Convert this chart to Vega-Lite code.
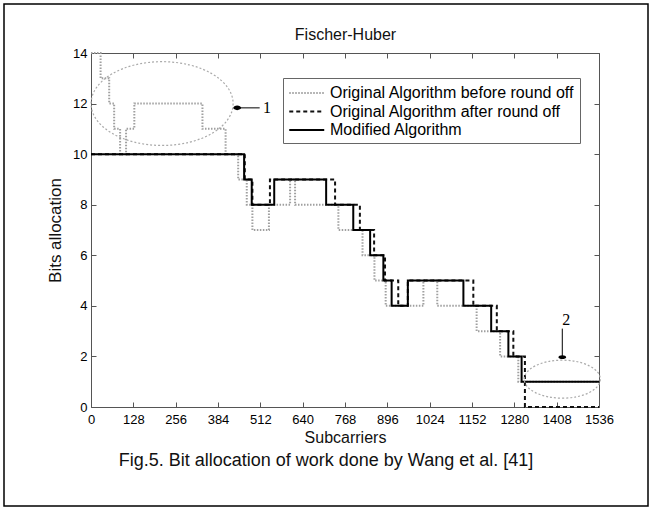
{
  "$schema": "https://vega.github.io/schema/vega-lite/v6.json",
  "width": 508,
  "height": 354,
  "autosize": {"type": "none"},
  "padding": {"left": 91, "top": 53, "right": 53, "bottom": 103},
  "background": "white",
  "title": {"text": "Fig.5. Bit allocation of work done by Wang et al. [41]", "orient": "bottom", "anchor": "middle", "frame": "bounds", "fontSize": 18, "font": "Liberation Sans", "fontWeight": "normal", "color": "#111", "offset": -55},
  "config": {
    "view": {"stroke": null},
    "font": "Liberation Sans",
    "axis": {"grid": false, "domainColor": "#555", "tickColor": "#555", "labelColor": "#000", "labelFontSize": 13, "labelFont": "Liberation Sans", "titleFont": "Liberation Sans", "titleFontSize": 17, "titleFontWeight": "normal", "titleColor": "#111", "tickSize": -5, "labelFlush": false, "labelOverlap": false}
  },
  "datasets": {
    "lines": [
      {"series": "Original Algorithm before round off", "x": 0, "y": 14},
      {"series": "Original Algorithm before round off", "x": 29, "y": 13},
      {"series": "Original Algorithm before round off", "x": 55, "y": 12},
      {"series": "Original Algorithm before round off", "x": 70, "y": 11},
      {"series": "Original Algorithm before round off", "x": 88, "y": 10},
      {"series": "Original Algorithm before round off", "x": 106, "y": 11},
      {"series": "Original Algorithm before round off", "x": 131, "y": 12},
      {"series": "Original Algorithm before round off", "x": 337, "y": 11},
      {"series": "Original Algorithm before round off", "x": 407, "y": 10},
      {"series": "Original Algorithm before round off", "x": 445, "y": 9},
      {"series": "Original Algorithm before round off", "x": 471, "y": 8},
      {"series": "Original Algorithm before round off", "x": 488, "y": 7},
      {"series": "Original Algorithm before round off", "x": 538, "y": 8},
      {"series": "Original Algorithm before round off", "x": 602, "y": 9},
      {"series": "Original Algorithm before round off", "x": 617, "y": 8},
      {"series": "Original Algorithm before round off", "x": 748, "y": 7},
      {"series": "Original Algorithm before round off", "x": 821, "y": 6},
      {"series": "Original Algorithm before round off", "x": 857, "y": 5},
      {"series": "Original Algorithm before round off", "x": 891, "y": 4},
      {"series": "Original Algorithm before round off", "x": 1005, "y": 5},
      {"series": "Original Algorithm before round off", "x": 1047, "y": 4},
      {"series": "Original Algorithm before round off", "x": 1166, "y": 3},
      {"series": "Original Algorithm before round off", "x": 1237, "y": 2},
      {"series": "Original Algorithm before round off", "x": 1292, "y": 1},
      {"series": "Original Algorithm before round off", "x": 1536, "y": 1},
      {"series": "Original Algorithm after round off", "x": 0, "y": 10},
      {"series": "Original Algorithm after round off", "x": 465, "y": 9},
      {"series": "Original Algorithm after round off", "x": 488, "y": 8},
      {"series": "Original Algorithm after round off", "x": 541, "y": 9},
      {"series": "Original Algorithm after round off", "x": 738, "y": 8},
      {"series": "Original Algorithm after round off", "x": 813, "y": 7},
      {"series": "Original Algorithm after round off", "x": 856, "y": 6},
      {"series": "Original Algorithm after round off", "x": 889, "y": 5},
      {"series": "Original Algorithm after round off", "x": 929, "y": 4},
      {"series": "Original Algorithm after round off", "x": 958, "y": 5},
      {"series": "Original Algorithm after round off", "x": 1156, "y": 4},
      {"series": "Original Algorithm after round off", "x": 1227, "y": 3},
      {"series": "Original Algorithm after round off", "x": 1277, "y": 2},
      {"series": "Original Algorithm after round off", "x": 1312, "y": 0},
      {"series": "Original Algorithm after round off", "x": 1536, "y": 0},
      {"series": "Modified Algorithm", "x": 0, "y": 10},
      {"series": "Modified Algorithm", "x": 463, "y": 9},
      {"series": "Modified Algorithm", "x": 486, "y": 8},
      {"series": "Modified Algorithm", "x": 554, "y": 9},
      {"series": "Modified Algorithm", "x": 711, "y": 8},
      {"series": "Modified Algorithm", "x": 793, "y": 7},
      {"series": "Modified Algorithm", "x": 844, "y": 6},
      {"series": "Modified Algorithm", "x": 884, "y": 5},
      {"series": "Modified Algorithm", "x": 909, "y": 4},
      {"series": "Modified Algorithm", "x": 958, "y": 5},
      {"series": "Modified Algorithm", "x": 1126, "y": 4},
      {"series": "Modified Algorithm", "x": 1210, "y": 3},
      {"series": "Modified Algorithm", "x": 1262, "y": 2},
      {"series": "Modified Algorithm", "x": 1302, "y": 1},
      {"series": "Modified Algorithm", "x": 1536, "y": 1}
    ],
    "ellipses": [
      {"name": "1", "x": 215, "y": 12.0},
      {"name": "2", "x": 1425, "y": 1.1}
    ],
    "labels": [
      {"label": "1", "x": 520, "y": 11.83},
      {"label": "2", "x": 1425, "y": 3.45}
    ],
    "arrows": [
      {"name": "1", "x": 445, "y": 11.83, "x2": 510, "y2": 11.83},
      {"name": "2", "x": 1425, "y": 3.1, "x2": 1425, "y2": 2.0}
    ],
    "heads": [
      {"name": "1", "x": 442, "y": 11.83, "dir": "left"},
      {"name": "2", "x": 1425, "y": 1.97, "dir": "down"}
    ]
  },
  "layer": [
    {
      "data": {"name": "lines"},
      "mark": {"type": "line", "interpolate": "step-after", "strokeWidth": 2},
      "encoding": {
        "x": {"field": "x", "type": "quantitative", "scale": {"domain": [0, 1536], "nice": false, "zero": false},
              "axis": {"orient": "bottom", "values": [0,128,256,384,512,640,768,896,1024,1152,1280,1408,1536], "format": "d", "labelPadding": 11, "title": "Subcarriers", "titleFontSize": 16, "titlePadding": 3}},
        "y": {"field": "y", "type": "quantitative", "scale": {"domain": [0, 14], "nice": false},
              "axis": {"orient": "left", "values": [0,2,4,6,8,10,12,14], "labelPadding": 9, "title": "Bits allocation", "titlePadding": 8}},
        "color": {"field": "series", "type": "nominal",
                  "scale": {"domain": ["Original Algorithm before round off", "Original Algorithm after round off", "Modified Algorithm"], "range": ["#a0a0a0", "#111111", "#000000"]},
                  "legend": {"orient": "none", "legendX": 192, "legendY": 25, "title": null, "symbolType": "M-1,0L3,0", "symbolSize": 306, "symbolStrokeWidth": 2, "labelFontSize": 16, "labelFont": "Liberation Sans", "labelColor": "#000", "strokeColor": "#666", "fillColor": "white", "padding": 5, "rowPadding": 0.5, "labelOffset": 22, "labelLimit": 400}},
        "strokeDash": {"field": "series", "type": "nominal",
                  "scale": {"domain": ["Original Algorithm before round off", "Original Algorithm after round off", "Modified Algorithm"], "range": [[1.5, 1.5], [4, 3], [1, 0]]},
                  "legend": {"orient": "none", "legendX": 192, "legendY": 25, "title": null}},
        "order": {"field": "x", "type": "quantitative"}
      }
    },
    {
      "data": {"name": "ellipses"},
      "mark": {"type": "point", "filled": false, "stroke": "#aaaaaa", "strokeWidth": 1.2, "strokeDash": [2, 2], "opacity": 1},
      "encoding": {
        "x": {"field": "x", "type": "quantitative", "axis": {"orient": "top", "labels": false, "values": [0,128,256,384,512,640,768,896,1024,1152,1280,1408,1536], "title": "Fischer-Huber", "titleFontSize": 16, "titlePadding": 10, "domain": true}},
        "y": {"field": "y", "type": "quantitative", "axis": {"orient": "right", "labels": false, "values": [0,2,4,6,8,10,12,14], "title": null}},
        "shape": {"field": "name", "type": "nominal", "scale": {"domain": ["1", "2"], "range": ["M-1,0A1,0.59,0,1,1,1,0A1,0.59,0,1,1,-1,0Z", "M-1,0A1,0.5,0,1,1,1,0A1,0.5,0,1,1,-1,0Z"]}, "legend": null},
        "size": {"field": "name", "type": "nominal", "scale": {"domain": ["1", "2"], "range": [20164, 5776]}, "legend": null}
      }
    },
    {
      "data": {"name": "arrows"},
      "mark": {"type": "rule", "color": "#000", "strokeWidth": 1},
      "encoding": {
        "x": {"field": "x", "type": "quantitative", "axis": null},
        "y": {"field": "y", "type": "quantitative", "axis": null},
        "x2": {"field": "x2"},
        "y2": {"field": "y2"}
      }
    },
    {
      "data": {"name": "heads"},
      "mark": {"type": "point", "filled": true, "color": "#000", "opacity": 1, "size": 60},
      "encoding": {
        "x": {"field": "x", "type": "quantitative", "axis": null},
        "y": {"field": "y", "type": "quantitative", "axis": null},
        "shape": {"field": "dir", "type": "nominal", "scale": {"domain": ["left", "down"], "range": ["M-1,0L1,-0.6L0.4,0L1,0.6Z", "M0,1L-0.6,-1L0,-0.4L0.6,-1Z"]}, "legend": null}
      }
    },
    {
      "data": {"name": "labels"},
      "mark": {"type": "text", "font": "Liberation Serif", "fontSize": 16, "color": "#000", "align": "left", "baseline": "middle"},
      "encoding": {
        "x": {"field": "x", "type": "quantitative", "axis": null},
        "y": {"field": "y", "type": "quantitative", "axis": null},
        "text": {"field": "label"}
      }
    },
    {
      "data": {"values": [{}]},
      "mark": {"type": "rect", "filled": false, "stroke": "#000", "strokeWidth": 1.5, "fill": null},
      "encoding": {
        "x": {"value": -87},
        "x2": {"value": 557},
        "y": {"value": -49},
        "y2": {"value": 453}
      }
    }
  ],
  "resolve": {"axis": {"x": "independent", "y": "independent"}}
}
